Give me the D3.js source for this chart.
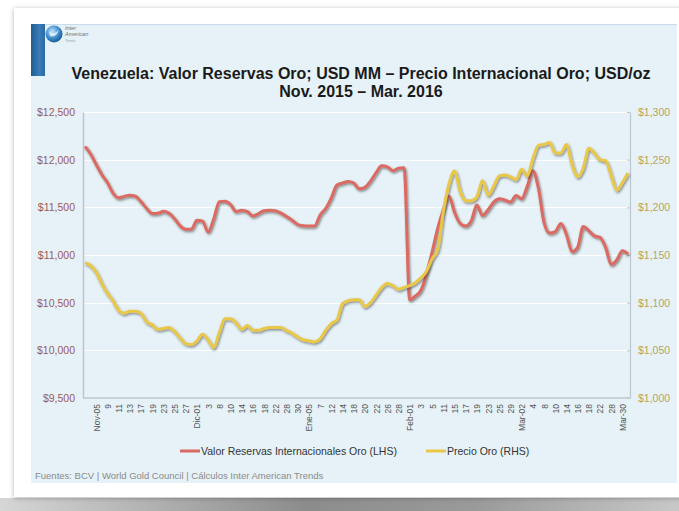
<!DOCTYPE html>
<html>
<head>
<meta charset="utf-8">
<title>Venezuela: Valor Reservas Oro</title>
<script src="https://d3js.org/d3.v7.min.js"></script>
<style>
  body { margin: 0; background: #ffffff; }
  svg { display: block; font-family: "Liberation Sans", Arial, sans-serif; }
</style>
</head>
<body>
<script>
// business days, Nov 2015 - Mar 2016
var dates = [
  "2015-11-03","2015-11-04","2015-11-05","2015-11-06","2015-11-09","2015-11-10","2015-11-11","2015-11-12","2015-11-13","2015-11-16",
  "2015-11-17","2015-11-18","2015-11-19","2015-11-20","2015-11-23","2015-11-24","2015-11-25","2015-11-26","2015-11-27","2015-11-30",
  "2015-12-01","2015-12-02","2015-12-03","2015-12-07","2015-12-08","2015-12-09","2015-12-10","2015-12-11","2015-12-14","2015-12-15",
  "2015-12-16","2015-12-17","2015-12-18","2015-12-21","2015-12-22","2015-12-23","2015-12-28","2015-12-29","2015-12-30","2016-01-04",
  "2016-01-05","2016-01-06","2016-01-07","2016-01-11","2016-01-12","2016-01-13","2016-01-14","2016-01-15","2016-01-18","2016-01-19",
  "2016-01-20","2016-01-21","2016-01-22","2016-01-25","2016-01-26","2016-01-27","2016-01-28","2016-01-29","2016-02-01","2016-02-02",
  "2016-02-03","2016-02-04","2016-02-05","2016-02-10","2016-02-11","2016-02-12","2016-02-15","2016-02-16","2016-02-17","2016-02-18",
  "2016-02-19","2016-02-22","2016-02-23","2016-02-24","2016-02-25","2016-02-26","2016-02-29","2016-03-01","2016-03-02","2016-03-03",
  "2016-03-04","2016-03-07","2016-03-08","2016-03-09","2016-03-10","2016-03-11","2016-03-14","2016-03-15","2016-03-16","2016-03-17",
  "2016-03-18","2016-03-21","2016-03-22","2016-03-23","2016-03-28","2016-03-29","2016-03-30","2016-03-31"
];

// Valor Reservas Internacionales Oro, USD MM (LHS)
var reservas = [
  12140,12060,11950,11845,11760,11650,11600,11615,11628,11618,
  11560,11490,11435,11438,11458,11437,11380,11305,11270,11270,
  11365,11355,11240,11380,11560,11565,11530,11455,11470,11455,
  11410,11435,11465,11470,11465,11440,11405,11365,11320,11306,
  11304,11304,11420,11490,11600,11735,11755,11770,11755,11695,
  11710,11775,11865,11935,11925,11885,11910,11915,10530,10570,
  10630,10800,11030,11280,11472,11620,11450,11332,11305,11360,
  11525,11415,11475,11555,11590,11577,11555,11625,11590,11720,
  11885,11700,11340,11230,11245,11330,11215,11035,11080,11300,
  11255,11200,11185,11080,10900,10950,11045,11010
];

// Precio Oro, USD/oz (RHS)
var precio = [
  1142,1139,1132,1120,1110,1102,1092,1089,1091,1091,
  1089,1080,1077,1072,1073,1074,1070,1063,1057,1056,
  1060,1067,1061,1053,1069,1083,1083,1079,1072,1076,
  1071,1071,1073,1074,1074,1074,1071,1068,1064,1061,
  1060,1059,1062,1071,1078,1082,1099,1102,1103,1103,
  1096,1100,1108,1116,1120,1118,1114,1116,1118,1121,
  1126,1133,1146,1156,1195,1224,1238,1217,1207,1207,
  1211,1228,1213,1222,1233,1234,1232,1229,1240,1233,
  1251,1265,1266,1268,1257,1257,1266,1245,1232,1241,
  1262,1257,1250,1249,1233,1218,1226,1236
];

// x axis labels, one every two business days
var tickLabels = ["Nov-05","9","11","13","17","19","23","25","27",
  "Dic-01","3","8","10","14","16","18","22","28","30",
  "Ene-05","7","12","14","18","20","22","26","28",
  "Feb-01","3","5","11","15","17","19","23","25","29",
  "Mar-02","4","8","10","14","16","18","22","28","Mar-30"];
var tickDates = dates.filter(function (d, i) { return i >= 2 && i <= 96 && i % 2 === 0; });

var leftTicks = [9500, 10000, 10500, 11000, 11500, 12000, 12500];
var rightTicks = [1000, 1050, 1100, 1150, 1200, 1250, 1300];

var width = 679, height = 511;
var plot = { left: 83, right: 630, top: 112, bottom: 398 };

var svg = d3.select("body").append("svg")
  .attr("width", width)
  .attr("height", height);

var defs = svg.append("defs");

var cardShadow = defs.append("filter").attr("id", "cardShadow")
  .attr("x", "-5%").attr("y", "-5%").attr("width", "110%").attr("height", "110%");
cardShadow.append("feDropShadow")
  .attr("dx", 0).attr("dy", 1).attr("stdDeviation", 2.5)
  .attr("flood-color", "#000").attr("flood-opacity", 0.3);

var lineShadow = defs.append("filter").attr("id", "lineShadow")
  .attr("x", "-5%").attr("y", "-10%").attr("width", "110%").attr("height", "120%");
lineShadow.append("feDropShadow")
  .attr("dx", 1).attr("dy", 1.5).attr("stdDeviation", 0.8)
  .attr("flood-color", "#303030").attr("flood-opacity", 0.55);

var bottomGrad = defs.append("linearGradient").attr("id", "bottomGrad")
  .attr("x1", "0%").attr("x2", "100%");
bottomGrad.append("stop").attr("offset", "0%").attr("stop-color", "#d6d6d6");
bottomGrad.append("stop").attr("offset", "45%").attr("stop-color", "#8c8c8c");
bottomGrad.append("stop").attr("offset", "70%").attr("stop-color", "#9a9a9a");
bottomGrad.append("stop").attr("offset", "100%").attr("stop-color", "#c8c8c8");

var globeGrad = defs.append("radialGradient").attr("id", "globeGrad")
  .attr("cx", "40%").attr("cy", "35%").attr("r", "65%");
globeGrad.append("stop").attr("offset", "0%").attr("stop-color", "#bfe3fb");
globeGrad.append("stop").attr("offset", "60%").attr("stop-color", "#3f8fd0");
globeGrad.append("stop").attr("offset", "100%").attr("stop-color", "#1d5b98");

var barGrad = defs.append("linearGradient").attr("id", "barGrad")
  .attr("x1", "0%").attr("x2", "100%");
barGrad.append("stop").attr("offset", "0%").attr("stop-color", "#1f5c93");
barGrad.append("stop").attr("offset", "60%").attr("stop-color", "#3a7cb8");
barGrad.append("stop").attr("offset", "100%").attr("stop-color", "#2b6aa4");

// page / card
svg.append("rect").attr("x", 0).attr("y", 498).attr("width", width).attr("height", 13)
  .attr("fill", "url(#bottomGrad)");
svg.append("rect").attr("x", 14).attr("y", 8).attr("width", 680).attr("height", 489)
  .attr("fill", "#ffffff").attr("filter", "url(#cardShadow)");
svg.append("rect").attr("x", 31).attr("y", 24).attr("width", 646).attr("height", 459)
  .attr("fill", "#e6f2f7");
svg.append("line").attr("x1", 31).attr("x2", 677).attr("y1", 24.5).attr("y2", 24.5)
  .attr("stroke", "#c9dcec").attr("stroke-width", 1);

// logo
svg.append("rect").attr("x", 31).attr("y", 24).attr("width", 14).attr("height", 52)
  .attr("fill", "url(#barGrad)");
svg.append("circle").attr("cx", 54).attr("cy", 34).attr("r", 8.5)
  .attr("fill", "url(#globeGrad)");
svg.append("path").attr("d", "M49,31 Q54,36 59,30 Q56,38 50,36 Z")
  .attr("fill", "#ffffff").attr("opacity", 0.7);
var logoText = svg.append("g").attr("fill", "#707070").attr("font-size", 5.5).attr("font-style", "italic");
logoText.append("text").attr("x", 65).attr("y", 30).text("Inter");
logoText.append("text").attr("x", 65).attr("y", 36).text("American");
logoText.append("text").attr("x", 65).attr("y", 41.5).attr("font-size", 3.5).attr("fill", "#999").text("Trends");

// title
svg.append("text")
  .attr("x", 361).attr("y", 79)
  .attr("text-anchor", "middle")
  .attr("font-size", 16).attr("font-weight", "bold").attr("fill", "#1a1a1a")
  .text("Venezuela: Valor Reservas Oro; USD MM \u2013 Precio Internacional Oro; USD/oz");
svg.append("text")
  .attr("x", 361).attr("y", 97)
  .attr("text-anchor", "middle")
  .attr("font-size", 16).attr("font-weight", "bold").attr("fill", "#1a1a1a")
  .text("Nov. 2015 \u2013 Mar. 2016");

// scales
var x = d3.scalePoint().domain(dates).range([plot.left + 2, plot.right - 2]);
var yLeft = d3.scaleLinear().domain([9500, 12500]).range([plot.bottom, plot.top]);
var yRight = d3.scaleLinear().domain([1000, 1300]).range([plot.bottom, plot.top]);

// gridlines
svg.append("g").selectAll("line")
  .data(leftTicks.slice(1))
  .enter().append("line")
  .attr("x1", plot.left).attr("x2", plot.right)
  .attr("y1", function (d) { return Math.round(yLeft(d)) + 0.5; })
  .attr("y2", function (d) { return Math.round(yLeft(d)) + 0.5; })
  .attr("stroke", "#ffffff").attr("stroke-width", 1.2);

// left axis
var leftAxis = svg.append("g")
  .attr("transform", "translate(" + plot.left + ",0)")
  .call(d3.axisLeft(yLeft).tickValues(leftTicks).tickSize(0).tickPadding(8)
    .tickFormat(function (d) { return "$" + d3.format(",")(d); }));
leftAxis.select(".domain").attr("stroke", "#bcc7cc").attr("stroke-width", 1.5);
leftAxis.selectAll("text").attr("font-size", 10.5).attr("fill", "#9a5a5a")
  .attr("font-family", "'Liberation Sans', Arial, sans-serif");

// right axis
var rightAxis = svg.append("g")
  .attr("transform", "translate(" + plot.right + ",0)")
  .call(d3.axisRight(yRight).tickValues(rightTicks).tickSizeInner(-3).tickSizeOuter(0).tickPadding(8)
    .tickFormat(function (d) { return "$" + d3.format(",")(d); }));
rightAxis.select(".domain").attr("stroke", "#bcc7cc").attr("stroke-width", 1.2);
rightAxis.selectAll(".tick line").attr("stroke", "#bcc7cc");
rightAxis.selectAll("text").attr("font-size", 10.5).attr("fill", "#bca25a")
  .attr("font-family", "'Liberation Sans', Arial, sans-serif");

// bottom axis
var bottomAxis = svg.append("g")
  .attr("transform", "translate(0," + plot.bottom + ")")
  .call(d3.axisBottom(x).tickValues(tickDates).tickSize(0).tickPadding(6)
    .tickFormat(function (d) { return tickLabels[tickDates.indexOf(d)]; }));
bottomAxis.select(".domain").attr("d", "M" + plot.left + ",0H" + plot.right)
  .attr("stroke", "#bcc7cc").attr("stroke-width", 1.5);
bottomAxis.selectAll("text")
  .attr("font-size", 8.5).attr("fill", "#555555")
  .attr("font-family", "'Liberation Sans', Arial, sans-serif")
  .attr("text-anchor", "end")
  .attr("dy", "0.35em")
  .attr("transform", "translate(0,6) rotate(-90)")
  .attr("x", 0).attr("y", 0);

// lines
var lineLeft = d3.line()
  .x(function (d, i) { return x(dates[i]); })
  .y(function (d) { return yLeft(d); })
  .curve(d3.curveMonotoneX);
var lineRight = d3.line()
  .x(function (d, i) { return x(dates[i]); })
  .y(function (d) { return yRight(d); })
  .curve(d3.curveMonotoneX);

svg.append("path").datum(reservas)
  .attr("d", lineLeft)
  .attr("fill", "none").attr("stroke", "#db6a62").attr("stroke-width", 3)
  .attr("stroke-linejoin", "round").attr("filter", "url(#lineShadow)");
svg.append("path").datum(precio)
  .attr("d", lineRight)
  .attr("fill", "none").attr("stroke", "#e9c848").attr("stroke-width", 3)
  .attr("stroke-linejoin", "round").attr("filter", "url(#lineShadow)");

// legend
var legend = [
  { name: "Valor Reservas Internacionales Oro (LHS)", color: "#db6a62", x: 180 },
  { name: "Precio Oro (RHS)", color: "#e9c848", x: 426 }
];
var lg = svg.append("g").selectAll("g").data(legend).enter().append("g")
  .attr("transform", function (d) { return "translate(" + d.x + ",451)"; });
lg.append("line").attr("x1", 0).attr("x2", 20).attr("y1", 0).attr("y2", 0)
  .attr("stroke", function (d) { return d.color; }).attr("stroke-width", 3);
lg.append("text").attr("x", 21).attr("y", 0).attr("dy", "0.35em")
  .attr("font-size", 10.5).attr("fill", "#333333")
  .text(function (d) { return d.name; });

// footer
svg.append("text").attr("x", 35).attr("y", 479)
  .attr("font-size", 9.5).attr("fill", "#8a8a8a")
  .text("Fuentes: BCV | World Gold Council  | C\u00e1lculos Inter American Trends");
</script>
</body>
</html>
